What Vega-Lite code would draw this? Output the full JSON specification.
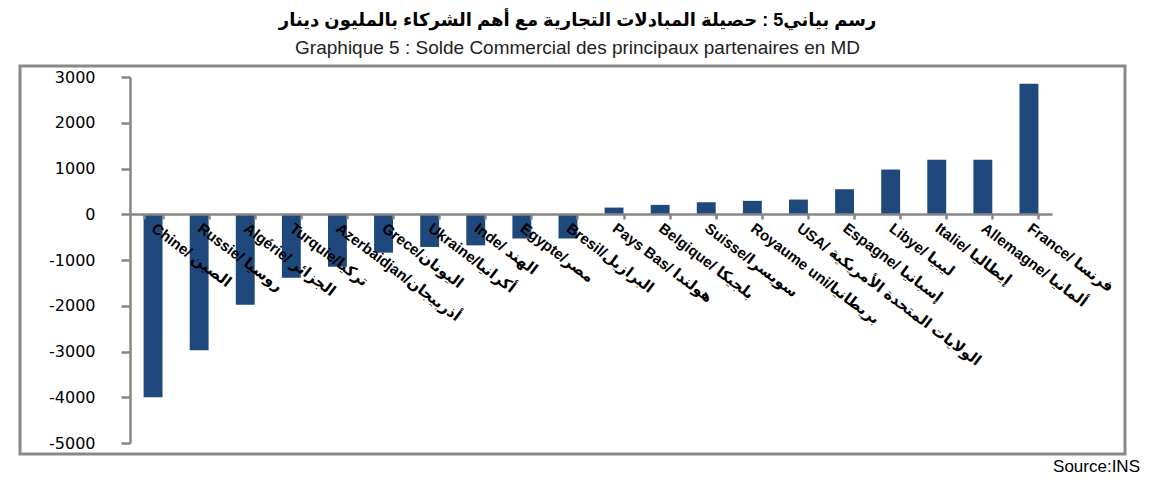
{
  "$schema": "https://vega.github.io/schema/vega-lite/v6.json",
  "autosize": {"type": "pad"},
  "padding": {"left": 13, "top": 11, "right": 15, "bottom": 8},
  "background": "white",
  "title": {
    "text": "رسم بياني5 : حصيلة المبادلات التجارية مع أهم الشركاء بالمليون دينار",
    "subtitle": "Graphique 5 : Solde Commercial des principaux partenaires en MD",
    "anchor": "middle",
    "font": "Liberation Sans, DejaVu Sans",
    "fontSize": 18,
    "fontWeight": "bold",
    "color": "black",
    "subtitleFont": "Liberation Sans",
    "subtitleFontSize": 19,
    "subtitleColor": "#222222",
    "subtitlePadding": 9,
    "offset": 7
  },
  "vconcat": [
    {
      "width": 1105,
      "height": 388,
      "title": {
        "text": "Source:INS",
        "orient": "bottom",
        "anchor": "end",
        "frame": "group",
        "font": "Liberation Sans",
        "fontSize": 17,
        "fontWeight": "normal",
        "color": "black",
        "dx": 15,
        "offset": 5
      },
      "data": {
        "values": [
          {"pays": "Chine/ الصين", "solde": -4000},
          {"pays": "Russie/ روسيا", "solde": -2970},
          {"pays": "Algérie/ الجزائر", "solde": -1980},
          {"pays": "Turquie/تركيا", "solde": -1390},
          {"pays": "Azerbaidjan/أذربيجان", "solde": -1150},
          {"pays": "Grece/اليونان", "solde": -840},
          {"pays": "Ukraine/أكرانيا", "solde": -715},
          {"pays": "Inde/ الهند", "solde": -680},
          {"pays": "Egypte/مصر", "solde": -530},
          {"pays": "Bresil/البرازيل", "solde": -530},
          {"pays": "Pays Bas/ هولندا", "solde": 146},
          {"pays": "Belgique/ بلجيكا", "solde": 205},
          {"pays": "Suisse/سويسرا", "solde": 262},
          {"pays": "Royaume uni/بريطانيا", "solde": 293},
          {"pays": "USA/ الولايات المتحدة الأمريكية", "solde": 321},
          {"pays": "Espagne/ إسبانيا", "solde": 547},
          {"pays": "Libye/ ليبيا", "solde": 977},
          {"pays": "Italie/ إيطاليا", "solde": 1190},
          {"pays": "Allemagne/ ألمانيا", "solde": 1190},
          {"pays": "France/ فرنسا", "solde": 2850}
        ]
      },
      "mark": {"type": "bar", "color": "#1F497D"},
      "encoding": {
        "x": {
          "field": "pays",
          "type": "nominal",
          "sort": null,
          "scale": {"range": [110, 1032], "paddingInner": 0.59, "paddingOuter": 0.295},
          "axis": {
            "orient": "bottom",
            "offset": -240,
            "title": null,
            "zindex": 1,
            "grid": false,
            "tickBand": "extent",
            "tickSize": 5,
            "tickColor": "#868686",
            "tickWidth": 2.5,
            "domainColor": "#868686",
            "domainWidth": 2.5,
            "labelAngle": 37,
            "labelAlign": "left",
            "labelBaseline": "middle",
            "labelFont": "Liberation Sans, DejaVu Sans",
            "labelFontSize": 15,
            "labelFontWeight": "bold",
            "labelColor": "black",
            "labelPadding": 7,
            "labelOverlap": false,
            "labelLimit": 400
          }
        },
        "y": {
          "field": "solde",
          "type": "quantitative",
          "scale": {"domain": [-5000, 3000], "range": [377, 11], "nice": false},
          "axis": {
            "orient": "left",
            "offset": -110,
            "title": null,
            "grid": false,
            "values": [-5000, -4000, -3000, -2000, -1000, 0, 1000, 2000, 3000],
            "labelExpr": "toString(datum.value)",
            "domainColor": "#868686",
            "domainWidth": 2.5,
            "tickColor": "#868686",
            "tickWidth": 2.5,
            "tickSize": 9,
            "labelFont": "DejaVu Sans",
            "labelFontSize": 16,
            "labelColor": "black",
            "labelPadding": 26
          }
        }
      }
    }
  ],
  "config": {
    "view": {"stroke": "#888888", "strokeWidth": 3},
    "concat": {"spacing": 0}
  }
}
